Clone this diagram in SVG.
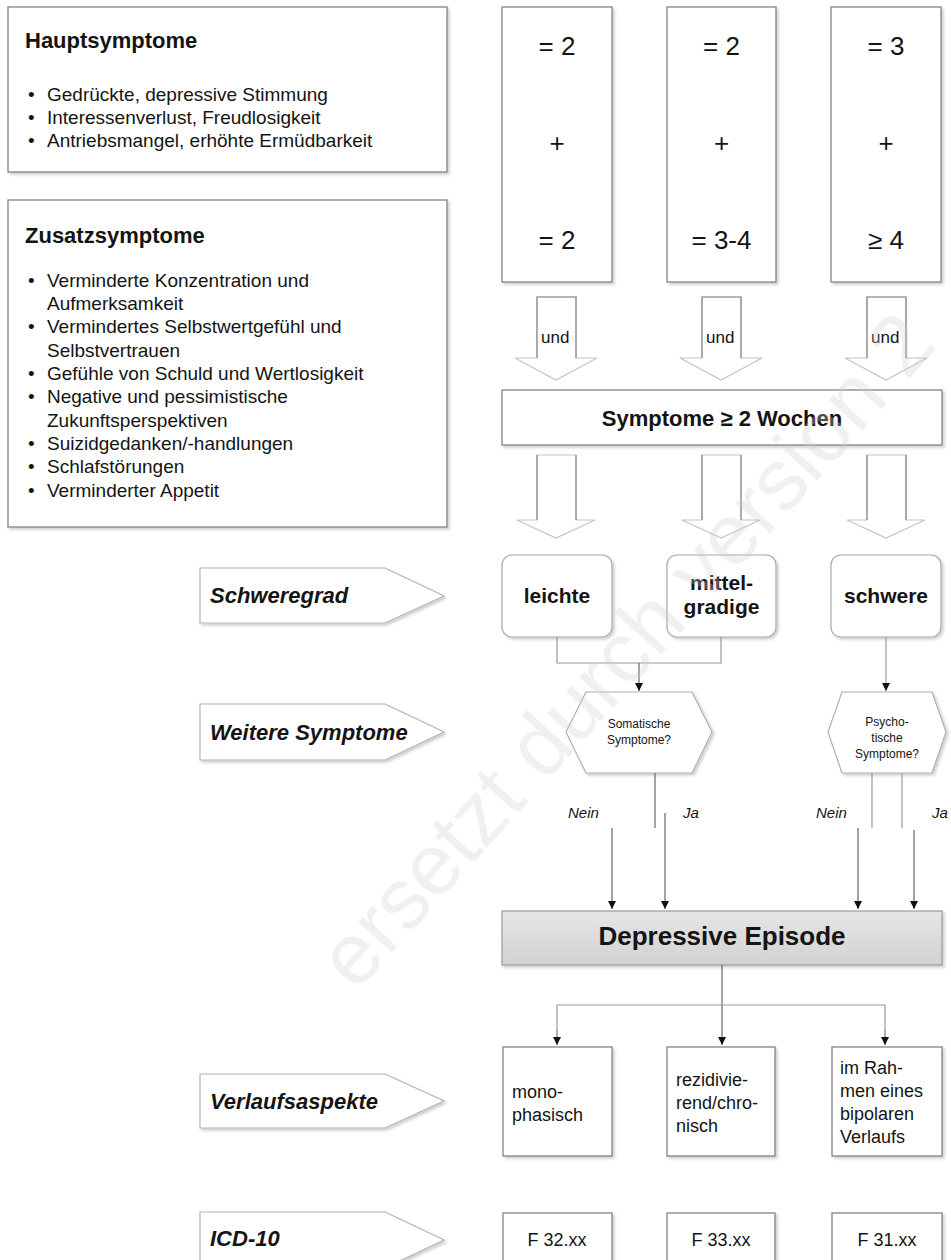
<svg xmlns="http://www.w3.org/2000/svg" width="951" height="1260" viewBox="0 0 951 1260">
<defs>
<style>
.t{font-family:"Liberation Sans",Arial,sans-serif;fill:#141414}
.b{font-weight:bold}
.bi{font-weight:bold;font-style:italic}
.box{fill:#fff;stroke:#7a7a7a;stroke-width:1.2;filter:url(#sh)}
.lbox{fill:#fff;stroke:#a8a8a8;stroke-width:1.2;filter:url(#sh)}
.pent{fill:#fff;stroke:#b4b4b4;stroke-width:1.2;filter:url(#sh)}
.hex{fill:#fff;stroke:#b0b0b0;stroke-width:1.2;filter:url(#sh)}
.hol{fill:#fff;stroke:#c4c4c4;stroke-width:1.2}
.sh{stroke:#8a8a8a;stroke-width:1.2;fill:none}
.c{stroke:#666;stroke-width:1.2;fill:none}
.cl{stroke:#9a9a9a;stroke-width:1.2;fill:none}
.num{font-size:26px;text-anchor:middle}
.li{font-size:19px}
.v{font-size:18px}
.lab{font-size:22px}
.mid{text-anchor:middle}
.sm{font-size:12px;text-anchor:middle}
.yn{font-size:15px;font-style:italic}
</style>
<filter id="sh" x="-10%" y="-10%" width="130%" height="130%">
<feDropShadow dx="2" dy="2" stdDeviation="1.8" flood-color="#000" flood-opacity="0.2"/>
</filter>
<linearGradient id="dg" x1="0" y1="0" x2="0" y2="1">
<stop offset="0" stop-color="#e6e6e6"/>
<stop offset="1" stop-color="#d2d2d2"/>
</linearGradient>
<marker id="ah" viewBox="0 0 10 10" refX="10" refY="5" markerWidth="9" markerHeight="8" markerUnits="userSpaceOnUse" orient="auto">
<path d="M0,0 L10,5 L0,10 z" fill="#111"/>
</marker>
</defs>
<rect width="951" height="1260" fill="#fff"/>

<g id="hauptsymptome">
<rect class="box" x="8" y="7" width="439" height="165"/>
<text class="t b" x="25" y="48" font-size="22">Hauptsymptome</text>
<text class="t li" x="28" y="101">•</text><text class="t li" x="47" y="101">Gedrückte, depressive Stimmung</text>
<text class="t li" x="28" y="124">•</text><text class="t li" x="47" y="124">Interessenverlust, Freudlosigkeit</text>
<text class="t li" x="28" y="147">•</text><text class="t li" x="47" y="147">Antriebsmangel, erhöhte Ermüdbarkeit</text>
</g>

<g id="zusatzsymptome">
<rect class="box" x="8" y="200" width="439" height="327"/>
<text class="t b" x="25" y="243" font-size="22">Zusatzsymptome</text>
<text class="t li" x="28" y="287">•</text><text class="t li" x="47" y="287">Verminderte Konzentration und</text>
<text class="t li" x="47" y="310">Aufmerksamkeit</text>
<text class="t li" x="28" y="333">•</text><text class="t li" x="47" y="333">Vermindertes Selbstwertgefühl und</text>
<text class="t li" x="47" y="357">Selbstvertrauen</text>
<text class="t li" x="28" y="380">•</text><text class="t li" x="47" y="380">Gefühle von Schuld und Wertlosigkeit</text>
<text class="t li" x="28" y="403">•</text><text class="t li" x="47" y="403">Negative und pessimistische</text>
<text class="t li" x="47" y="427">Zukunftsperspektiven</text>
<text class="t li" x="28" y="450">•</text><text class="t li" x="47" y="450">Suizidgedanken/-handlungen</text>
<text class="t li" x="28" y="473">•</text><text class="t li" x="47" y="473">Schlafstörungen</text>
<text class="t li" x="28" y="497">•</text><text class="t li" x="47" y="497">Verminderter Appetit</text>
</g>

<g id="kriterien-leicht">
<rect class="box" x="502" y="7" width="110" height="275"/>
<text class="t num" x="557" y="55">= 2</text>
<text class="t num" x="557" y="152">+</text>
<text class="t num" x="557" y="249">= 2</text>
</g>
<g id="kriterien-mittel">
<rect class="box" x="667" y="7" width="109" height="275"/>
<text class="t num" x="721.5" y="55">= 2</text>
<text class="t num" x="721.5" y="152">+</text>
<text class="t num" x="721.5" y="249">= 3-4</text>
</g>
<g id="kriterien-schwer">
<rect class="box" x="831" y="7" width="110" height="275"/>
<text class="t num" x="886" y="55">= 3</text>
<text class="t num" x="886" y="152">+</text>
<text class="t num" x="886" y="249">≥ 4</text>
</g>

<g id="und-pfeile">
<g id="und1">
<polygon class="hol" points="537,297 576,297 576,358 597,358 556,380 515,358 537,358"/>
<path class="sh" d="M537,358 V297 H576 V358"/>
<text class="t" x="541" y="343" font-size="17">und</text>
</g>
<g id="und2">
<polygon class="hol" points="702,297 741,297 741,358 762,358 721,380 680,358 702,358"/>
<path class="sh" d="M702,358 V297 H741 V358"/>
<text class="t" x="706" y="343" font-size="17">und</text>
</g>
<g id="und3">
<polygon class="hol" points="867,297 906,297 906,358 927,358 886,380 845,358 867,358"/>
<path class="sh" d="M867,358 V297 H906 V358"/>
<text class="t" x="871" y="343" font-size="17">und</text>
</g>
</g>

<g id="dauer">
<rect class="box" x="502" y="390" width="440" height="55"/>
<text class="t b mid" x="722" y="426" font-size="22">Symptome ≥ 2 Wochen</text>
</g>

<g id="dauer-pfeile">
<polygon class="hol" points="537,455 576,455 576,520 595,520 556,538 517,520 537,520"/>
<path class="sh" d="M537,520 V455 M576,455 V520"/>
<polygon class="hol" points="702,455 741,455 741,520 760,520 721,538 682,520 702,520"/>
<path class="sh" d="M702,520 V455 M741,455 V520"/>
<polygon class="hol" points="867,455 906,455 906,520 925,520 886,538 847,520 867,520"/>
<path class="sh" d="M867,520 V455 M906,455 V520"/>
</g>

<g id="label-schweregrad">
<polygon class="pent" points="200,568 385,568 444,596 385,623 200,623"/>
<text class="t bi lab" x="210" y="603">Schweregrad</text>
</g>
<g id="leichte">
<rect class="lbox" x="502" y="555" width="110" height="82" rx="10"/>
<text class="t b mid" x="557" y="603" font-size="21">leichte</text>
</g>
<g id="mittelgradige">
<rect class="lbox" x="667" y="555" width="109" height="82" rx="10"/>
<text class="t b mid" x="721.5" y="590" font-size="21">mittel-</text>
<text class="t b mid" x="721.5" y="614" font-size="21">gradige</text>
</g>
<g id="schwere">
<rect class="lbox" x="831" y="555" width="110" height="82" rx="10"/>
<text class="t b mid" x="886" y="603" font-size="21">schwere</text>
</g>

<g id="label-weitere">
<polygon class="pent" points="200,704 385,704 444,732 385,760 200,760"/>
<text class="t bi lab" x="210" y="740">Weitere Symptome</text>
</g>
<g id="somatisch">
<polygon class="hex" points="586,692 692,692 712,732 692,773 586,773 566,732"/>
<text class="t sm" x="639" y="728">Somatische</text>
<text class="t sm" x="639" y="744">Symptome?</text>
</g>
<g id="psychotisch">
<polygon class="hex" points="842,692 932,692 946,732 932,773 842,773 828,732"/>
<text class="t sm" x="887" y="726">Psycho-</text>
<text class="t sm" x="887" y="742">tische</text>
<text class="t sm" x="887" y="758">Symptome?</text>
</g>

<g id="depressive-episode">
<rect x="502" y="911" width="440" height="54" fill="url(#dg)" stroke="#999" stroke-width="1.2" filter="url(#sh)"/>
<text class="t b mid" x="722" y="945" font-size="26">Depressive Episode</text>
</g>

<g id="label-verlauf">
<polygon class="pent" points="200,1074 385,1074 444,1101 385,1128 200,1128"/>
<text class="t bi lab" x="210" y="1109">Verlaufsaspekte</text>
</g>
<g id="monophasisch">
<rect class="box" x="503" y="1047" width="109" height="109"/>
<text class="t v" x="512" y="1098">mono-</text>
<text class="t v" x="512" y="1121">phasisch</text>
</g>
<g id="rezidivierend">
<rect class="box" x="667" y="1047" width="108" height="109"/>
<text class="t v" x="676" y="1086">rezidivie-</text>
<text class="t v" x="676" y="1109">rend/chro-</text>
<text class="t v" x="676" y="1132">nisch</text>
</g>
<g id="bipolar">
<rect class="box" x="832" y="1047" width="110" height="109"/>
<text class="t v" x="840" y="1074">im Rah-</text>
<text class="t v" x="840" y="1097">men eines</text>
<text class="t v" x="840" y="1120">bipolaren</text>
<text class="t v" x="840" y="1143">Verlaufs</text>
</g>

<g id="label-icd">
<polygon class="pent" points="200,1212 385,1212 444,1240 385,1268 200,1268"/>
<text class="t bi lab" x="210" y="1246">ICD-10</text>
</g>
<g id="f32">
<rect class="box" x="503" y="1213" width="109" height="70"/>
<text class="t v mid" x="557" y="1246">F 32.xx</text>
</g>
<g id="f33">
<rect class="box" x="667" y="1213" width="108" height="70"/>
<text class="t v mid" x="721" y="1246">F 33.xx</text>
</g>
<g id="f31">
<rect class="box" x="832" y="1213" width="110" height="70"/>
<text class="t v mid" x="887" y="1246">F 31.xx</text>
</g>

<g id="connectors">
<path class="cl" d="M557,637 V663 H721 V637"/>
<path class="c" d="M639,663 V691" marker-end="url(#ah)"/>
<path class="cl" d="M886,637 V691" marker-end="url(#ah)"/>
<path class="c" d="M655,773 V828"/>
<path class="c" d="M612,828 V909" marker-end="url(#ah)"/>
<path class="c" d="M665,813 V909" marker-end="url(#ah)"/>
<path class="cl" d="M872,773 V828"/>
<path class="cl" d="M902,773 V828"/>
<path class="c" d="M858,828 V909" marker-end="url(#ah)"/>
<path class="c" d="M914,830 V909" marker-end="url(#ah)"/>
<path class="c" d="M722,965 V1045" marker-end="url(#ah)"/>
<path class="cl" d="M557,1045 V1005 H885 V1045"/>
<path class="cl" d="M557,1030 V1045" marker-end="url(#ah)"/>
<path class="cl" d="M885,1030 V1045" marker-end="url(#ah)"/>
<text class="t yn" x="568" y="818">Nein</text>
<text class="t yn" x="683" y="818">Ja</text>
<text class="t yn" x="816" y="818">Nein</text>
<text class="t yn" x="932" y="818">Ja</text>
</g>

<g id="watermark" opacity="0.3">
<text class="t" transform="translate(628,652) rotate(-48)" x="0" y="26" font-size="86" text-anchor="middle" style="fill:#cfcfcf">ersetzt durch version 2</text>
</g>
</svg>
